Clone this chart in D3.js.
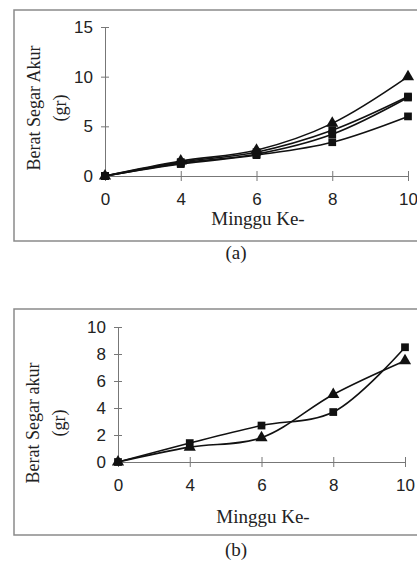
<!DOCTYPE html>
<html>
<head>
<meta charset="utf-8">
<script src="https://cdn.jsdelivr.net/npm/d3@7"></script>
<style>
  body { margin: 0; background: #fff; }
  svg { display: block; }
</style>
</head>
<body>
<script>
const weeks = ['0', '4', '6', '8', '10']

// panel (a)
const aTicksY = [0, 5, 10, 15]
const aTriangle = [0, 1.5, 2.6, 5.3, 10.0]
const aSquareHigh = [0, 1.4, 2.4, 4.6, 8.0]
const aSquareMid = [0, 1.3, 2.2, 4.2, 7.9]
const aSquareLow = [0, 1.2, 2.1, 3.4, 6.0]

// panel (b)
const bTicksY = [0, 2, 4, 6, 8, 10]
const bSquare = [0, 1.4, 2.7, 3.7, 8.5]
const bTriangle = [0, 1.1, 1.8, 5.0, 7.5]

const width = 417
const height = 564
const svg = d3.select('body').append('svg')
  .attr('width', width)
  .attr('height', height)

const serif = '"Liberation Serif", "Times New Roman", serif'
const sans = '"Liberation Sans", Arial, sans-serif'

function panel(opt) {
  const g = svg.append('g')

  // frame
  g.append('rect')
    .attr('x', 14).attr('y', opt.frameTop)
    .attr('width', 420).attr('height', opt.frameBottom - opt.frameTop)
    .attr('fill', 'none').attr('stroke', '#8a8a8a').attr('stroke-width', 1.5)

  const x = d3.scalePoint().domain(weeks).range([opt.x0, opt.x1])
  const y = d3.scaleLinear().domain([0, opt.yMax]).range([opt.y0, opt.y1])

  const yAxis = g.append('g')
    .attr('transform', `translate(${opt.x0},0)`)
    .call(d3.axisLeft(y).tickValues(opt.ticksY).tickSize(4).tickPadding(8))
  yAxis.select('.domain').attr('stroke', '#777')
  yAxis.selectAll('.tick line').attr('stroke', '#777').attr('x2', 4).attr('x1', -4)
  yAxis.selectAll('.tick text')
    .attr('font-family', sans).attr('font-size', 17).attr('fill', '#222')

  const xAxis = g.append('g')
    .attr('transform', `translate(0,${opt.y0})`)
    .call(d3.axisBottom(x).tickSize(4).tickPadding(13).tickSizeOuter(0))
  xAxis.select('.domain').attr('stroke', '#777')
  xAxis.selectAll('.tick line').attr('stroke', '#777').attr('y1', -5).attr('y2', 5)
  xAxis.selectAll('.tick text')
    .attr('font-family', sans).attr('font-size', 17).attr('fill', '#222')

  const line = d3.line()
    .x((d, i) => x(weeks[i]))
    .y((d) => y(d))
    .curve(d3.curveCatmullRom.alpha(0.5))

  opt.series.forEach((s) => {
    g.append('path')
      .datum(s.values)
      .attr('d', line)
      .attr('fill', 'none')
      .attr('stroke', '#111')
      .attr('stroke-width', 1.6)
  })

  opt.series.forEach((s) => {
    const sym = d3.symbol()
      .type(s.shape === 'triangle' ? d3.symbolTriangle : d3.symbolSquare)
      .size(s.shape === 'triangle' ? 64 : 60)
    g.selectAll(null)
      .data(s.values)
      .enter()
      .append('path')
      .attr('d', sym)
      .attr('transform', (d, i) => `translate(${x(weeks[i])},${y(d)})`)
      .attr('fill', '#111')
  })

  // axis titles
  g.append('text')
    .attr('transform', `translate(${opt.titleX},${opt.titleY}) rotate(-90)`)
    .attr('text-anchor', 'middle')
    .attr('font-family', serif).attr('font-size', 18).attr('fill', '#222')
    .text(opt.title)
  g.append('text')
    .attr('transform', `translate(${opt.titleX + 26},${opt.titleY}) rotate(-90)`)
    .attr('text-anchor', 'middle')
    .attr('font-family', serif).attr('font-size', 18).attr('fill', '#222')
    .text('(gr)')

  g.append('text')
    .attr('x', opt.xTitleX).attr('y', opt.xTitleY)
    .attr('text-anchor', 'middle')
    .attr('font-family', serif).attr('font-size', 19).attr('fill', '#222')
    .text('Minggu Ke-')

  g.append('text')
    .attr('x', 236).attr('y', opt.captionY)
    .attr('text-anchor', 'middle')
    .attr('font-family', serif).attr('font-size', 19).attr('fill', '#222')
    .text(opt.caption)
}

panel({
  frameTop: 10, frameBottom: 241,
  x0: 105, x1: 408, y0: 176, y1: 27, yMax: 15,
  ticksY: aTicksY,
  series: [
    { values: aSquareLow, shape: 'square' },
    { values: aSquareMid, shape: 'square' },
    { values: aSquareHigh, shape: 'square' },
    { values: aTriangle, shape: 'triangle' },
  ],
  title: 'Berat Segar Akur', titleX: 40, titleY: 108,
  xTitleX: 258, xTitleY: 225,
  caption: '(a)', captionY: 259,
})

panel({
  frameTop: 309, frameBottom: 535,
  x0: 118, x1: 405, y0: 462, y1: 327, yMax: 10,
  ticksY: bTicksY,
  series: [
    { values: bTriangle, shape: 'triangle' },
    { values: bSquare, shape: 'square' },
  ],
  title: 'Berat Segar akur', titleX: 39, titleY: 423,
  xTitleX: 263, xTitleY: 523,
  caption: '(b)', captionY: 556,
})
</script>
</body>
</html>
